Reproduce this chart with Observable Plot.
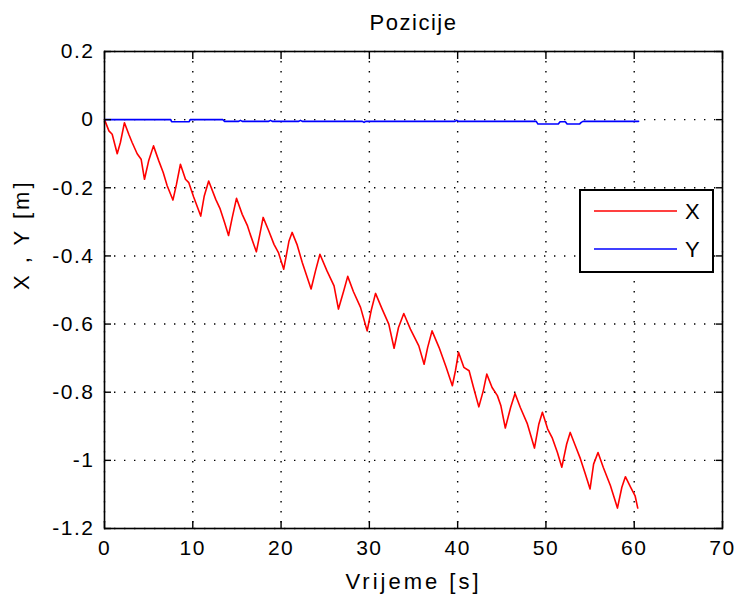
<!DOCTYPE html>
<html>
<head>
<meta charset="utf-8">
<script src="https://cdn.jsdelivr.net/npm/d3@7"></script>
<script src="https://cdn.jsdelivr.net/npm/@observablehq/plot@0.6"></script>
<style>
  html, body { margin: 0; padding: 0; background: #fff; }
  #wrap { position: relative; width: 738px; height: 605px; font-family: "Liberation Sans", Arial, sans-serif; }
  #legend { position: absolute; left: 579px; top: 189px; width: 131px; height: 80px; border: 2px solid #000; background: #fff; }
  .tk text { letter-spacing: 1.5px; }
  .lb text { letter-spacing: 3px; }
  .tt text { letter-spacing: 1.5px; }
</style>
</head>
<body>
<div id="wrap"></div>
<script>
const titleText = "Pozicije";
const xLabel = "Vrijeme [s]";
const yLabel = "X , Y [m]";
const seriesNames = ["X", "Y"];
const seriesColors = ["#ff0000", "#0000ff"];
const xTicks = [0, 10, 20, 30, 40, 50, 60, 70];
const yTicks = [0.2, 0, -0.2, -0.4, -0.6, -0.8, -1, -1.2];

const tX = [0, 0.5, 0.87, 1.44, 1.8, 2.26, 2.75, 3.13, 3.7, 4.15, 4.53, 5.0, 5.55, 6.15, 6.65, 7.1, 7.75, 8.15, 8.6, 9.17, 9.55, 10.1, 10.9, 11.3, 11.8, 12.6, 13.1, 13.6, 14.05, 14.45, 14.95, 15.6, 16.2, 16.5, 17.2, 17.6, 17.97, 18.6, 19.2, 19.7, 20.3, 20.9, 21.25, 21.8, 22.4, 23.4, 23.9, 24.4, 25.2, 26.0, 26.5, 27.1, 27.55, 28.2, 29.0, 29.75, 30.2, 30.7, 31.45, 32.2, 32.8, 33.3, 33.9, 34.65, 35.6, 36.2, 36.6, 37.1, 37.9, 38.7, 39.4, 39.75, 40.1, 40.7, 41.3, 41.8, 42.4, 42.9, 43.3, 43.9, 44.5, 44.9, 45.4, 46.0, 46.5, 47.1, 47.9, 48.7, 49.2, 49.6, 50.2, 50.7, 51.3, 51.8, 52.35, 52.75, 53.3, 53.9, 54.4, 55.0, 55.4, 55.9, 56.5, 57.3, 58.1, 58.6, 59.0, 59.6, 60.1, 60.4];
const vX = [0, -0.033, -0.043, -0.10, -0.067, -0.009, -0.043, -0.067, -0.10, -0.116, -0.175, -0.121, -0.077, -0.121, -0.155, -0.194, -0.236, -0.19, -0.131, -0.175, -0.185, -0.227, -0.283, -0.224, -0.18, -0.234, -0.262, -0.302, -0.34, -0.29, -0.231, -0.278, -0.312, -0.336, -0.388, -0.336, -0.287, -0.326, -0.366, -0.39, -0.439, -0.356, -0.331, -0.366, -0.419, -0.497, -0.444, -0.395, -0.444, -0.488, -0.556, -0.502, -0.46, -0.505, -0.551, -0.62, -0.561, -0.51, -0.556, -0.60, -0.671, -0.61, -0.569, -0.615, -0.664, -0.718, -0.669, -0.62, -0.669, -0.727, -0.781, -0.737, -0.683, -0.727, -0.737, -0.786, -0.843, -0.796, -0.747, -0.786, -0.81, -0.84, -0.905, -0.845, -0.804, -0.845, -0.893, -0.964, -0.893, -0.859, -0.908, -0.933, -0.977, -1.02, -0.952, -0.918, -0.955, -0.995, -1.035, -1.084, -1.011, -0.977, -1.021, -1.074, -1.14, -1.079, -1.048, -1.079, -1.104, -1.14];

const tY = [0, 7.5, 7.6, 9.6, 9.7, 13.4, 13.6, 15.2, 15.4, 15.6, 18.6, 18.8, 19.0, 22.0, 22.2, 22.4, 29.2, 29.4, 29.6, 39.7, 39.9, 40.1, 48.9, 49.1, 51.4, 51.6, 52.2, 52.4, 53.8, 54.0, 54.2, 60.5];
const vY = [0, 0, -0.006, -0.006, 0, 0, -0.005, -0.005, -0.002, -0.005, -0.005, -0.002, -0.005, -0.005, -0.002, -0.005, -0.005, -0.008, -0.005, -0.005, -0.002, -0.005, -0.005, -0.013, -0.013, -0.006, -0.006, -0.013, -0.013, -0.008, -0.005, -0.005];

const dataX = tX.map((t, i) => ({t, v: vX[i]}));
const dataY = tY.map((t, i) => ({t, v: vY[i]}));
const fmt = d => String(+(+d).toFixed(1));
const FS = 21;
const LFS = 22;
const grid = {stroke: "#000", strokeOpacity: 1, strokeWidth: 1.4, strokeDasharray: "1.4,8.6"};

const chart = Plot.plot({
  width: 738,
  height: 605,
  marginLeft: 104,
  marginRight: 16,
  marginTop: 51,
  marginBottom: 77,
  style: {fontFamily: "Liberation Sans, Arial, sans-serif", fontSize: FS + "px", background: "#fff", color: "#000"},
  x: {domain: [0, 70]},
  y: {domain: [-1.2, 0.2]},
  marks: [
    Plot.gridX(xTicks, grid),
    Plot.gridY(yTicks, grid),
    Plot.line(dataX, {x: "t", y: "v", stroke: seriesColors[0], strokeWidth: 1.6}),
    Plot.line(dataY, {x: "t", y: "v", stroke: seriesColors[1], strokeWidth: 1.6}),
    Plot.axisX(xTicks, {anchor: "bottom", tickSize: 0, tickPadding: 12, tickFormat: fmt, fontSize: FS, label: null, className: "tk"}),
    Plot.axisY(yTicks, {anchor: "left", tickSize: 0, tickPadding: 10, tickFormat: fmt, fontSize: FS, label: null, className: "tk"}),
    Plot.text([xLabel], {frameAnchor: "bottom", lineAnchor: "middle", dy: 53, fontSize: LFS, fill: "#000", className: "lb"}),
    Plot.text([yLabel], {frameAnchor: "left", lineAnchor: "middle", dx: -83, rotate: -90, fontSize: LFS, fill: "#000", className: "lb"}),
    Plot.axisX(xTicks, {anchor: "bottom", tickSize: 7, dy: -7, tickFormat: () => "", label: null, strokeWidth: 1.4}),
    Plot.axisX(xTicks, {anchor: "top", tickSize: 7, dy: 7, tickFormat: () => "", label: null, strokeWidth: 1.4}),
    Plot.axisY(yTicks, {anchor: "left", tickSize: 7, dx: 7, tickFormat: () => "", label: null, strokeWidth: 1.4}),
    Plot.axisY(yTicks, {anchor: "right", tickSize: 7, dx: -7, tickFormat: () => "", label: null, strokeWidth: 1.4}),
    Plot.frame({stroke: "#000", strokeWidth: 1.6}),
    Plot.text([titleText], {frameAnchor: "top", lineAnchor: "middle", dy: -29, fontSize: LFS, fill: "#000", className: "tt"})
  ]
});

const wrap = document.getElementById("wrap");
wrap.appendChild(chart);

const legend = document.createElement("div");
legend.id = "legend";
const ns = "http://www.w3.org/2000/svg";
const lsvg = document.createElementNS(ns, "svg");
lsvg.setAttribute("width", 131);
lsvg.setAttribute("height", 80);
seriesNames.forEach((name, i) => {
  const y = i === 0 ? 20 : 58;
  const ln = document.createElementNS(ns, "line");
  ln.setAttribute("x1", 13); ln.setAttribute("x2", 96);
  ln.setAttribute("y1", y); ln.setAttribute("y2", y);
  ln.setAttribute("stroke", seriesColors[i]); ln.setAttribute("stroke-width", 1.6);
  lsvg.appendChild(ln);
  const tx = document.createElementNS(ns, "text");
  tx.setAttribute("x", 104); tx.setAttribute("y", y);
  tx.setAttribute("dy", "0.35em");
  tx.setAttribute("font-family", "Liberation Sans, Arial, sans-serif");
  tx.setAttribute("font-size", LFS);
  tx.textContent = name;
  lsvg.appendChild(tx);
});
legend.appendChild(lsvg);
wrap.appendChild(legend);
</script>
</body>
</html>
